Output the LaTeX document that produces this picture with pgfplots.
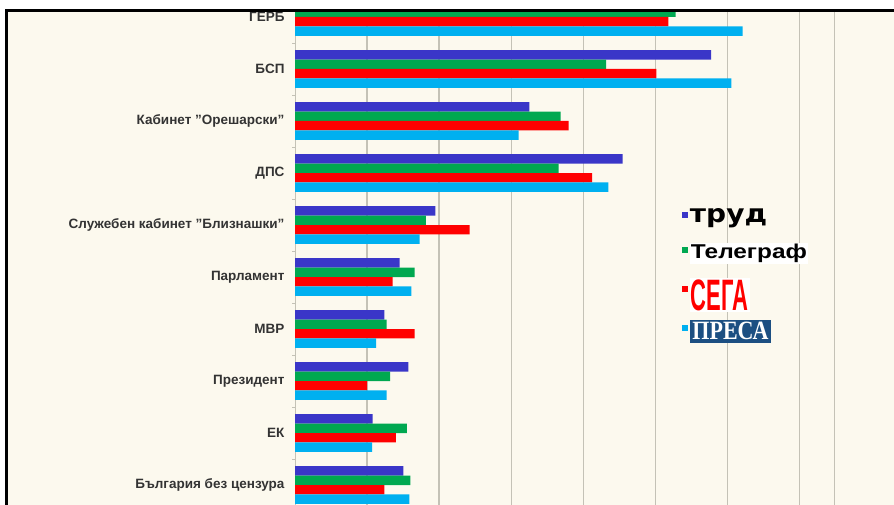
\documentclass[border=0pt]{standalone}
\usepackage{pgfplots}
\usepackage{pgfplotstable}
\pgfplotsset{compat=1.18}
\usepackage{fontspec}
\setmainfont{Liberation Sans}
\newfontfamily\serifb{Liberation Serif}
\newfontfamily\dejavu{DejaVu Sans}
\definecolor{cbg}{HTML}{FCF9EE}
\definecolor{cblue}{HTML}{3A36C8}
\definecolor{cgreen}{HTML}{00A850}
\definecolor{cred}{HTML}{FF0000}
\definecolor{ccyan}{HTML}{00B0F0}
\definecolor{cgrid}{HTML}{C4C2B6}
\definecolor{cpresa}{HTML}{1C4F82}
\definecolor{clabel}{HTML}{333333}

\pgfplotstableread{
idx trud telegraf sega presa
0 28.00 26.40 25.89 31.05
1 28.85 21.57 25.06 30.26
2 16.25 18.42 18.98 15.51
3 22.72 18.29 20.60 21.73
4 9.73 9.08 12.11 8.65
5 7.26 8.30 6.77 8.07
6 6.19 6.36 8.30 5.62
7 7.86 6.59 5.01 6.36
8 5.39 7.75 7.00 5.34
9 7.51 8.00 6.19 7.93
}\datatable

\newcommand{\logobox}[1]{$\vcenter{\hbox{#1}}$}

\begin{document}
\begin{tikzpicture}
\useasboundingbox (0pt,0pt) rectangle (894pt,505pt);
\fill[white] (0pt,0pt) rectangle (894pt,505pt);
\fill[cbg] (6.5pt,0pt) rectangle (894pt,494.5pt);
\begin{scope}
\clip (6.5pt,0pt) rectangle (894pt,494.5pt);
\begin{axis}[
  at={(295pt,514pt)}, anchor=north west,
  scale only axis, width=539pt, height=520pt,
  xmin=0, xmax=37.38, ymin=-0.5, ymax=9.5, y dir=reverse,
  xbar=0pt, bar width=9.4pt,
  axis line style={cgrid, line width=1pt},
  axis background/.style={fill=cbg},
  xtick={5,10,...,35}, xticklabels={},
  xmajorgrids, major grid style={cgrid, line width=1.5pt},
  ytick={0,...,9},
  yticklabels={ГЕРБ, БСП, {Кабинет "Орешарски"}, ДПС, {Служебен кабинет "Близнашки"}, Парламент, МВР, Президент, ЕК, {България без цензура}},
  major tick length=0pt,
  minor ytick={-0.5,0.5,...,9.5}, minor tick length=3pt,
  tick align=outside, tick pos=left,
  minor tick style={cgrid, line width=0.8pt},
  yticklabel style={font=\bfseries\fontsize{13.5}{13.5}\selectfont, text=clabel, xshift=-7pt},
  legend style={at={(axis description cs:0.712,0.59)}, anchor=north west, draw=none, fill=none,
    legend cell align=left, row sep=17pt,
    nodes={inner sep=2pt}},
  legend image code/.code={\fill[#1] (0pt,-3pt) rectangle (6pt,3pt);},
]
\addplot[fill=cblue, draw=none, bar shift=14.1pt] table[x=trud, y=idx] {\datatable};
\addplot[fill=cgreen, draw=none, bar shift=4.7pt] table[x=telegraf, y=idx] {\datatable};
\addplot[fill=cred, draw=none, bar shift=-4.7pt] table[x=sega, y=idx] {\datatable};
\addplot[fill=ccyan, draw=none, bar shift=-14.1pt] table[x=presa, y=idx] {\datatable};
\legend{
  {\logobox{\dejavu\bfseries\fontsize{25}{25}\selectfont\scalebox{1.12}[1]{труд}}},
  {\logobox{\fboxsep=1pt\colorbox{white}{\bfseries\fontsize{20}{20}\selectfont\scalebox{1.22}[1]{Телеграф}}}},
  {\logobox{\fboxsep=1pt\colorbox{white}{\color{cred}\bfseries\fontsize{44}{44}\selectfont\scalebox{0.5}[1]{СЕГА}}}},
  {\logobox{\fboxsep=2.5pt\colorbox{cpresa}{\color{white}\serifb\bfseries\fontsize{22}{22}\selectfont\scalebox{1.0}[1.2]{ПРЕСА}}}},
}
\end{axis}
\end{scope}
\draw[black, line width=2.6pt] (6.5pt,0pt) -- (6.5pt,494.5pt) -- (894pt,494.5pt);
\end{tikzpicture}
\end{document}
